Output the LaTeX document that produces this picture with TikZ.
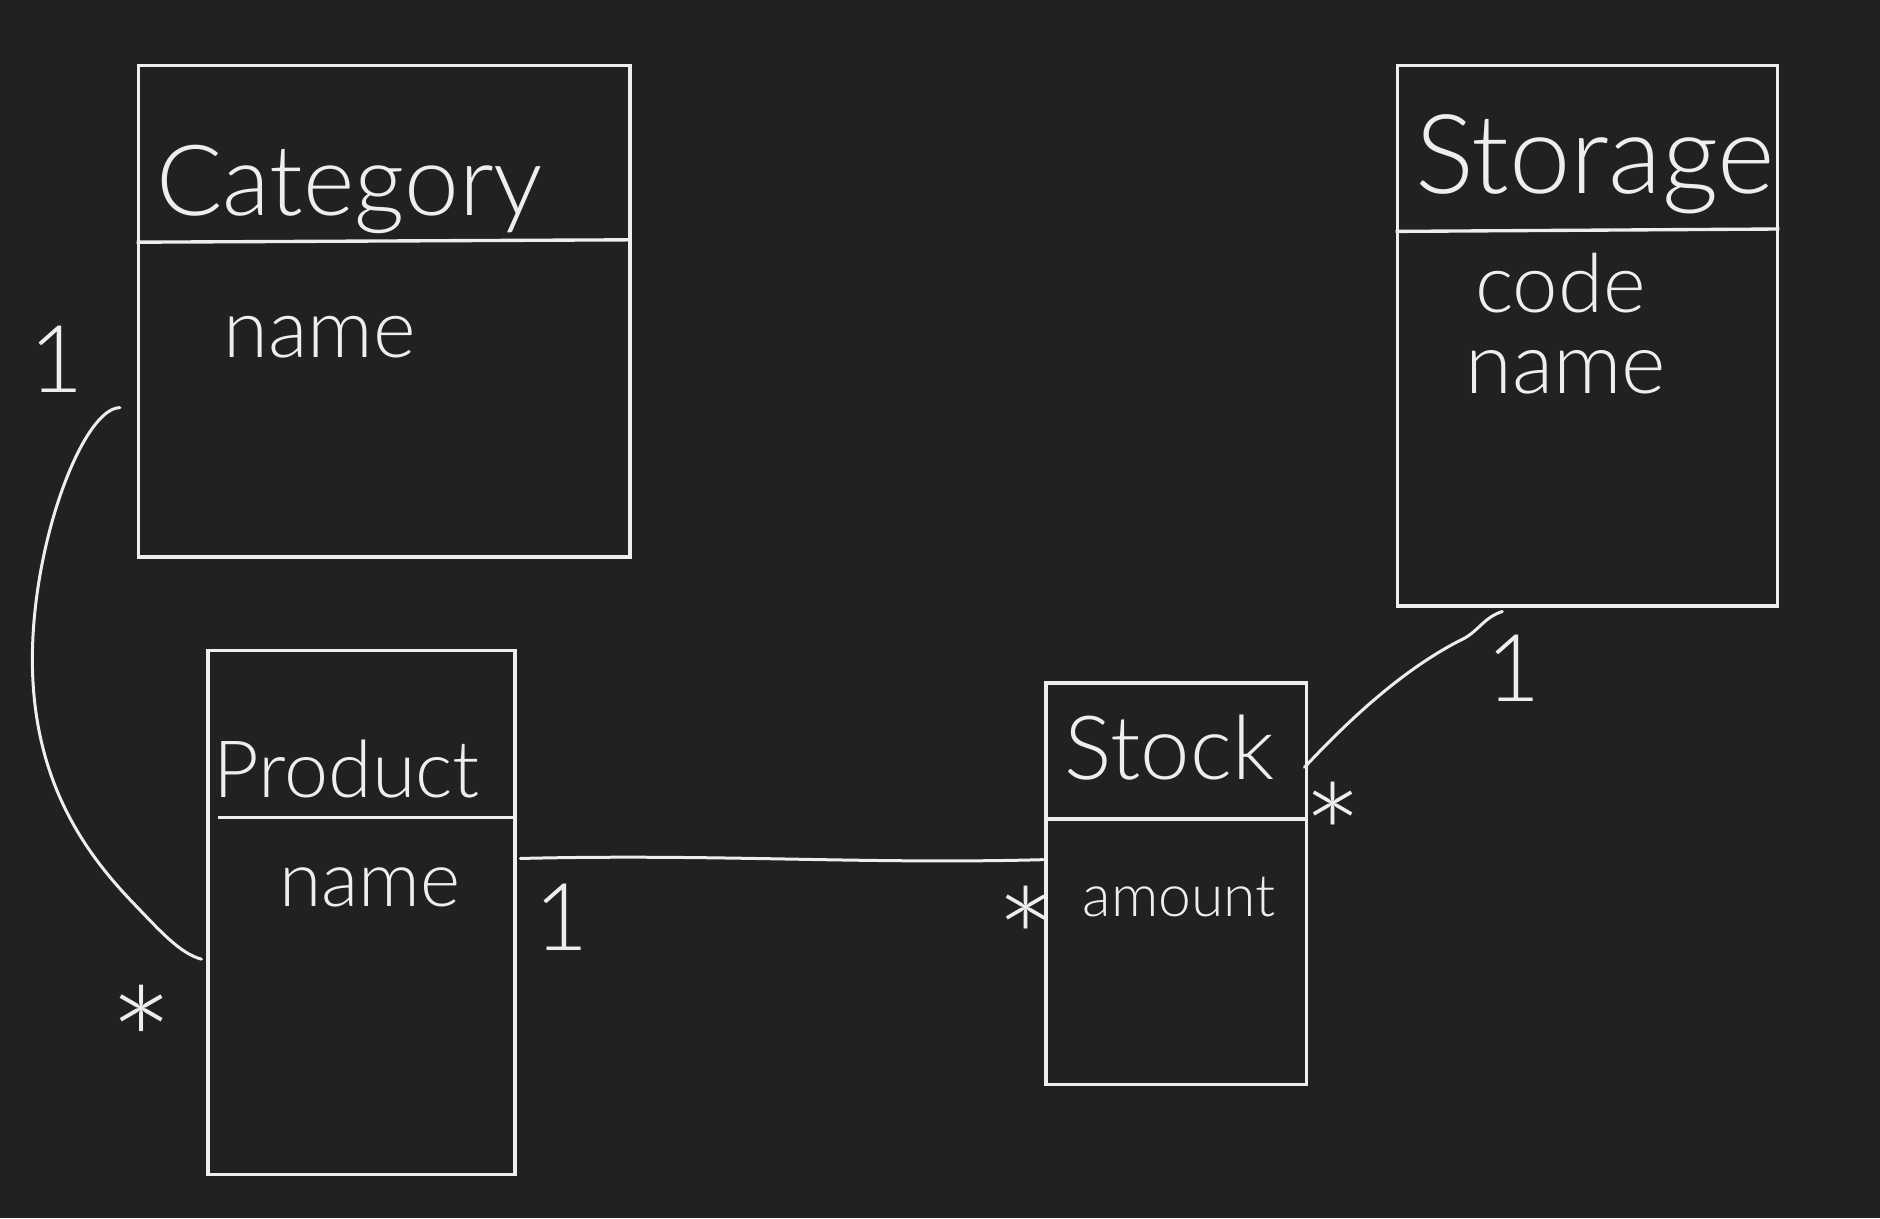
\documentclass[tikz,border=0pt]{standalone}
\usepackage{fontspec}
\setmainfont{Lato}[UprightFont=* Light]
\definecolor{bg}{RGB}{34,33,31}
\definecolor{ink}{RGB}{238,238,236}
\tikzset{
  umlbox/.style={draw=ink, line width=3pt, rectangle, inner sep=0pt, anchor=north west},
  divider/.style={draw=ink, line width=2.8pt},
  conn/.style={draw=ink, line width=2.5pt, line cap=round, line join=round},
  hand/.style={text=ink, inner sep=0pt, anchor=base west},
  mult/.style={text=ink, inner sep=0pt, anchor=center}
}
\newcommand{\fs}[1]{\fontsize{#1}{#1}\selectfont}
\begin{document}
\begin{tikzpicture}[x=1pt,y=1pt]
\fill[bg] (0,0) rectangle (1568,-1016);
\useasboundingbox (0,0) rectangle (1568,-1016);

% boxes
\node[umlbox, minimum width=410pt, minimum height=410pt] (category) at (114,-53) {};
\node[umlbox, minimum width=317pt, minimum height=451pt] (storage) at (1164,-53) {};
\node[umlbox, minimum width=256pt, minimum height=437pt] (product) at (172,-541) {};
\node[umlbox, minimum width=217pt, minimum height=335pt] (stock) at (871,-568) {};

% dividers
\draw[divider] (category.west |- 0,-202) -- (category.east |- 0,-200);
\draw[divider] (storage.west |- 0,-193) -- (storage.east |- 0,-191);
\draw[divider] (182,-682) -- (product.east |- 0,-682);
\draw[divider] (stock.west |- 0,-683) -- (stock.east |- 0,-683);

% titles and attributes
\node[hand, font=\fs{82}] (tcat) at (130,-180) {Category};
\node[hand, font=\fs{68}] (acatname) at (186,-298) {name};
\node[hand, font=\fs{92}] (tsto) at (1180,-161) {Storage};
\node[hand, font=\fs{68}] (astocode) at (1230,-261) {code};
\node[hand, font=\fs{71}] (astoname) at (1222,-328) {name};
\node[hand, font=\fs{66}] (tprod) at (178,-665) {Product};
\node[hand, font=\fs{64}] (aprodname) at (233,-756) {name};
\node[hand, font=\fs{74}] (tstock) at (888,-650) {Stock};
\node[hand, font=\fs{49}] (astockamt) at (903,-764) {amount};

% connector endpoints
\coordinate (ccat) at (100,-340);
\coordinate (cprod) at (168,-800);
\coordinate (pstart) at (434,-716);
\coordinate (send) at (870,-717);
\coordinate (sst) at (1088,-640);
\coordinate (stoend) at (1253,-510);

% connectors
\draw[conn] (ccat) .. controls (70,-340) and (27,-450) .. (27,-550)
  .. controls (27,-650) and (70,-710) .. (110,-752)
  .. controls (135,-778) and (150,-795) .. (cprod);
\draw[conn] (pstart) .. controls (600,-712) and (720,-721) .. (send);
\draw[conn] (sst) .. controls (1130,-595) and (1175,-555) .. (1222,-532)
  .. controls (1235,-524) and (1238,-515) .. (stoend);

% multiplicities
\node[mult, font=\fs{78}] (m1) at (47,-300) {1};
\node[mult, font=\fs{130}] (m2) at (118,-870) {*};
\node[mult, font=\fs{120}] (m4) at (856,-784) {*};
\node[mult, font=\fs{78}] (m3) at (468,-765) {1};
\node[mult, font=\fs{120}] (m5) at (1112,-697) {*};
\node[mult, font=\fs{78}] (m6) at (1262,-557) {1};
\end{tikzpicture}
\end{document}
